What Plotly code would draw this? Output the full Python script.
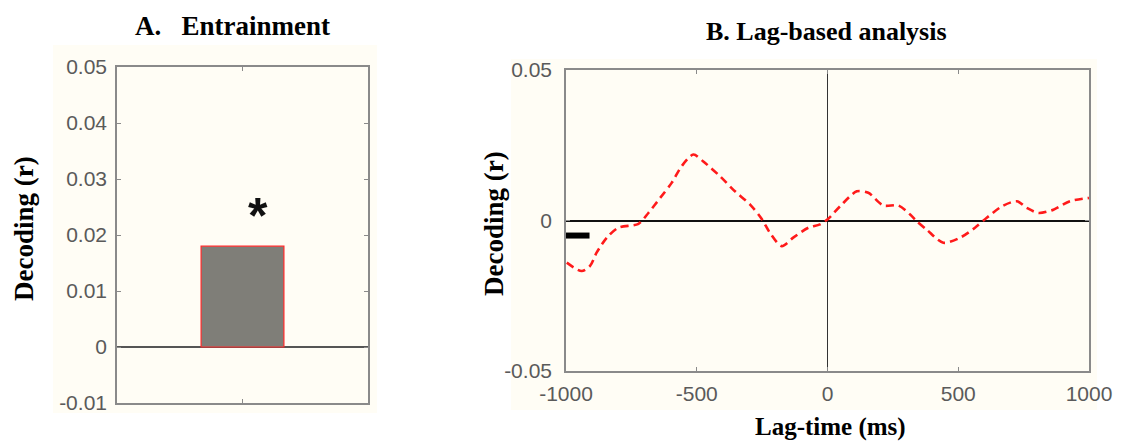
import plotly.graph_objects as go

# ---------------- data ----------------
# Panel A: entrainment bar
bar_x = [1]
bar_y = [0.018]
star_x = [1.06]
star_y = [0.0249]
a_yticks = [-0.01, 0, 0.01, 0.02, 0.03, 0.04, 0.05]
a_yticklabels = ["-0.01", "0", "0.01", "0.02", "0.03", "0.04", "0.05"]

# Panel B: lag-based decoding curve
lag_ms = [-997, -940, -908, -883, -844, -800, -723, -685, -640, -596, -558, -513,
          -475, -411, -354, -296, -252, -220, -175, -131, -73, -29, 3,
          48, 112, 156, 213, 271, 316, 341, 379, 443, 507, 564, 609, 667,
          724, 762, 807, 864, 927, 1000]
decoding = [-0.0140, -0.0168, -0.0151, -0.0107, -0.0057, -0.0024, -0.0011, 0.0025,
            0.0075, 0.0125, 0.0180, 0.0219, 0.0196, 0.0147, 0.0097, 0.0053, 0.0006,
            -0.0041, -0.0085, -0.0057, -0.0024, -0.0013, 0.0006,
            0.0047, 0.0097, 0.0092, 0.0050, 0.0050, 0.0020, -0.0002, -0.0030,
            -0.0074, -0.0057, -0.0024, 0.0009, 0.0047, 0.0064, 0.0042, 0.0025,
            0.0036, 0.0064, 0.0075]
sig_x = [-1000, -910]
sig_y = [-0.005, -0.005]
b_xticks = [-1000, -500, 0, 500, 1000]
b_xticklabels = ["-1000", "-500", "0", "500", "1000"]
b_yticks = [-0.05, 0, 0.05]
b_yticklabels = ["-0.05", "0", "0.05"]

# ---------------- figure ----------------
PAD = 8  # page body margin
W, H = 1121 - PAD, 442 - PAD
CREAM = "#FFFDF5"
AXC = "#8a8a8a"
TICKFONT = dict(family="Liberation Sans, Arial, sans-serif", size=21, color="#5a5a5a")
SERIF = "Liberation Serif, Times New Roman, serif"

def px(x):
    return (x - PAD) / W

def py(y):
    return 1 - (y - PAD) / H

fig = go.Figure()

fig.add_trace(go.Bar(x=bar_x, y=bar_y, width=0.33,
                     marker=dict(color="#7f7e78", line=dict(color="#ff2a2a", width=1.2)),
                     xaxis="x", yaxis="y", showlegend=False))

fig.add_trace(go.Scatter(x=lag_ms, y=decoding, mode="lines",
                         line=dict(color="#ff1a1a", width=2.6, dash="8px,5px",
                                   shape="spline", smoothing=0.8),
                         xaxis="x2", yaxis="y2", showlegend=False))
fig.add_trace(go.Scatter(x=sig_x, y=sig_y, mode="lines",
                         line=dict(color="black", width=6),
                         xaxis="x2", yaxis="y2", showlegend=False))

common_axis = dict(showline=True, linecolor=AXC, linewidth=1.6, mirror="ticks",
                   ticks="inside", ticklen=4, tickcolor=AXC, tickwidth=1,
                   showgrid=False, tickfont=TICKFONT, fixedrange=True, automargin=False)

fig.update_layout(
    width=W, height=H,
    margin=dict(l=0, r=0, t=0, b=0),
    paper_bgcolor="white", plot_bgcolor=CREAM,
    xaxis=dict(domain=[px(117), px(368)], range=[0.5, 1.5], tickvals=[1], ticktext=[""],
               zeroline=False, anchor="y", **common_axis),
    yaxis=dict(domain=[py(403), py(67)], range=[-0.01, 0.05], tickvals=a_yticks,
               ticktext=a_yticklabels, zeroline=True, zerolinecolor="#555", zerolinewidth=1.5,
               ticklabelstandoff=4, anchor="x", **common_axis),
    xaxis2=dict(domain=[px(566), px(1089)], range=[-1000, 1000], tickvals=b_xticks,
                ticktext=b_xticklabels,
                zeroline=True, zerolinecolor="#333", zerolinewidth=1.3,
                ticklabelstandoff=3, anchor="y2", **common_axis),
    yaxis2=dict(domain=[py(371), py(70)], range=[-0.05, 0.05], tickvals=b_yticks,
                ticktext=b_yticklabels, zeroline=True, zerolinecolor="#111", zerolinewidth=2.2,
                ticklabelstandoff=8, anchor="x2", **common_axis),
    shapes=[
        dict(type="rect", xref="paper", yref="paper", x0=px(53), x1=px(377), y0=py(413), y1=py(45),
             fillcolor=CREAM, line=dict(width=0), layer="below"),
        dict(type="rect", xref="paper", yref="paper", x0=px(511), x1=px(1097), y0=py(410), y1=py(59),
             fillcolor=CREAM, line=dict(width=0), layer="below"),
    ],
    annotations=[
        dict(text="<b>*</b>", x=star_x[0], y=star_y[0], xref="x", yref="y", yshift=-8,
             showarrow=False, font=dict(family="Liberation Sans, Arial", size=50, color="#111"),
             xanchor="center", yanchor="middle"),
        dict(text="<b>A.   Entrainment</b>", x=px(232), y=py(26), xref="paper", yref="paper",
             showarrow=False, font=dict(family=SERIF, size=27, color="black"),
             xanchor="center", yanchor="middle"),
        dict(text="<b>B. Lag-based analysis</b>", x=px(826), y=py(32), xref="paper", yref="paper",
             showarrow=False, font=dict(family=SERIF, size=26, color="black"),
             xanchor="center", yanchor="middle"),
        dict(text="<b>Decoding (r)</b>", x=px(24), y=py(229), xref="paper", yref="paper",
             showarrow=False, textangle=-90, font=dict(family=SERIF, size=27, color="black"),
             xanchor="center", yanchor="middle"),
        dict(text="<b>Decoding (r)</b>", x=px(494), y=py(224), xref="paper", yref="paper",
             showarrow=False, textangle=-90, font=dict(family=SERIF, size=27, color="black"),
             xanchor="center", yanchor="middle"),
        dict(text="<b>Lag-time (ms)</b>", x=px(830), y=py(427), xref="paper", yref="paper",
             showarrow=False, font=dict(family=SERIF, size=25, color="black"),
             xanchor="center", yanchor="middle"),
    ],
)

fig.write_html("out.html")
